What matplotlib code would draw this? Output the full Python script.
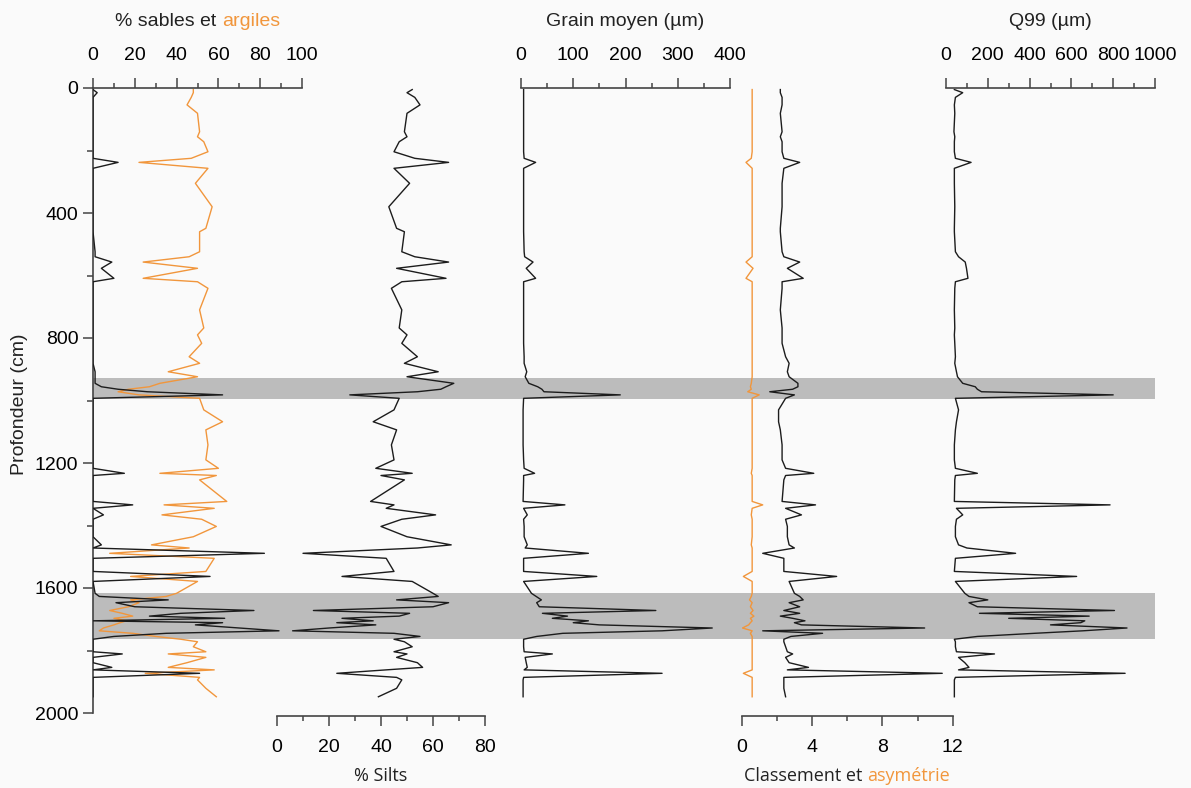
import matplotlib
matplotlib.use("Agg")
import matplotlib.pyplot as plt
from matplotlib.ticker import MultipleLocator

# ---- data (depth in cm) ----
depth = [5, 15, 30, 54, 81, 140, 156, 172, 204, 225, 238, 257, 305, 380, 449, 460,
         524, 540, 557, 577, 609, 620, 641, 710, 768, 790, 817, 860, 881, 908, 924,
         945, 956, 964, 972, 982, 993, 1030, 1068, 1094, 1142, 1190, 1217, 1233, 1240,
         1254, 1323, 1334, 1345, 1366, 1380, 1403, 1436, 1462, 1472, 1489, 1505, 1547,
         1563, 1579, 1617, 1627, 1638, 1647, 1660, 1672, 1681, 1690, 1697, 1705, 1711,
         1718, 1728, 1737, 1745, 1755, 1764, 1772, 1788, 1804, 1811, 1822, 1839, 1854,
         1862, 1873, 1886, 1894, 1921, 1948]

sables = [0, 2, 0, 0, 0, 0, 0, 0, 0, 0, 12, 0, 0, 0, 0, 0,
          1, 1, 9, 4, 10, 0, 0, 0, 0, 0, 0, 0, 0, 1, 1,
          1, 4, 12, 26, 62, 0, 0, 0, 0, 0, 0, 0, 15, 0,
          0, 0, 19, 0, 5, 0, 0, 0, 4, 0, 82, 0, 0,
          56, 0, 1, 3, 36, 11, 20, 77, 42, 27, 63, 0, 62,
          49, 70, 89, 35, 10, 0, 0, 0, 0, 14, 0, 0, 9,
          0, 51, 0, 0, 0, 0]

argiles = [48, 48, 47, 45, 50, 51, 50, 53, 55, 47, 22, 55, 49, 57, 54, 51,
           51, 46, 24, 50, 24, 50, 55, 51, 53, 50, 52, 46, 51, 36, 50,
           32, 27, 17, 12, 22, 51, 53, 62, 54, 55, 54, 60, 32, 59,
           51, 64, 34, 58, 33, 52, 59, 48, 28, 46, 8, 58, 54,
           18, 50, 40, 35, 18, 22, 17, 8, 14, 19, 10, 16, 13,
           10, 5, 3, 19, 30, 42, 50, 48, 54, 36, 54, 45, 36,
           58, 25, 51, 50, 54, 59]

silts = [52, 50, 53, 55, 50, 49, 50, 47, 45, 53, 66, 45, 51, 43, 46, 49,
         48, 53, 66, 46, 65, 48, 44, 48, 47, 50, 48, 54, 49, 62, 50,
         68, 65, 63, 54, 28, 47, 45, 37, 46, 44, 45, 38, 52, 40,
         49, 36, 45, 42, 61, 48, 40, 50, 67, 54, 10, 42, 45,
         25, 52, 60, 62, 46, 66, 60, 14, 51, 47, 25, 37, 23,
         38, 20, 6, 45, 55, 45, 49, 52, 45, 50, 46, 54, 56,
         42, 23, 46, 48, 46, 39]

grain = [5, 5, 5, 5, 5, 5, 5, 5, 5, 6, 28, 5, 5, 5, 5, 5,
         6, 7, 23, 10, 28, 5, 5, 5, 5, 5, 5, 6, 6, 11, 8,
         15, 32, 40, 44, 190, 5, 4, 4, 4, 4, 5, 6, 26, 5,
         5, 4, 84, 5, 12, 5, 6, 6, 12, 8, 129, 5, 5,
         145, 5, 20, 29, 39, 30, 35, 258, 41, 89, 60, 129, 100,
         150, 366, 270, 80, 30, 5, 5, 5, 6, 60, 8, 10, 12,
         6, 270, 5, 4, 4, 4]

classement = [2.2, 2.2, 2.3, 2.3, 2.2, 2.3, 2.2, 2.3, 2.3, 2.4, 3.3, 2.4, 2.3, 2.3, 2.2, 2.2,
              2.3, 2.4, 3.3, 2.6, 3.5, 2.3, 2.3, 2.2, 2.3, 2.3, 2.3, 2.5, 2.7, 2.6, 2.7,
              3.2, 3.2, 2.9, 1.6, 3.0, 2.5, 2.1, 2.1, 2.2, 2.3, 2.3, 2.5, 4.1, 2.5,
              2.4, 2.3, 4.2, 2.5, 3.4, 2.5, 2.6, 2.6, 2.7, 3.0, 1.2, 2.4, 2.4,
              5.4, 2.7, 3.0, 3.3, 3.5, 2.7, 3.3, 2.4, 3.3, 2.2, 2.9, 3.6, 3.0,
              3.4, 10.4, 1.2, 4.6, 2.8, 2.4, 2.4, 2.5, 2.6, 2.9, 2.5, 2.7, 3.8,
              2.6, 11.4, 2.4, 2.4, 2.4, 2.5]

asymetrie = [0.6, 0.6, 0.6, 0.6, 0.6, 0.6, 0.6, 0.6, 0.6, 0.55, 0.25, 0.6, 0.6, 0.6, 0.6, 0.6,
             0.6, 0.6, 0.25, 0.65, 0.25, 0.6, 0.6, 0.6, 0.6, 0.6, 0.6, 0.6, 0.6, 0.6, 0.6,
             0.55, 0.5, 0.55, 0.35, 1.0, 0.6, 0.6, 0.6, 0.6, 0.6, 0.6, 0.6, 0.55, 0.6,
             0.6, 0.6, 1.2, 0.6, 0.55, 0.6, 0.6, 0.6, 0.55, 0.6, 0.6, 0.6, 0.6,
             0.1, 0.6, 0.6, 0.55, 0.45, 0.6, 0.5, 0.65, 0.5, 0.7, 0.5, 0.6, 0.5,
             0.4, 0.05, 0.6, 0.5, 0.6, 0.6, 0.6, 0.6, 0.6, 0.6, 0.6, 0.6, 0.6,
             0.6, 0.1, 0.6, 0.6, 0.6, 0.6]

q99 = [40, 80, 45, 40, 42, 38, 42, 40, 40, 45, 120, 40, 40, 42, 40, 40,
       45, 60, 92, 98, 105, 45, 42, 40, 42, 40, 42, 45, 42, 50, 55,
       80, 140, 150, 170, 800, 45, 60, 50, 45, 40, 40, 45, 150, 45,
       42, 40, 785, 50, 80, 50, 45, 45, 60, 100, 333, 45, 40,
       625, 45, 90, 110, 200, 110, 150, 806, 160, 685, 300, 664, 645,
       500, 866, 655, 423, 150, 40, 45, 45, 50, 232, 60, 90, 110,
       60, 857, 45, 40, 40, 40]

bands = [(929, 996), (1617, 1763)]

BLACK = "#1c1c1c"
ORANGE = "#f1963c"
SPINE = "#444444"
FONT = "Liberation Sans"
FS = 14

plt.rcParams["font.family"] = FONT
W, H = 1191, 788
fig = plt.figure(figsize=(W / 100, H / 100), dpi=100, facecolor="#fafafa")

Y_TOP, Y_BOT = 88, 713


def add_axes(x0, x1):
    return fig.add_axes([x0 / W, (H - Y_BOT) / H, (x1 - x0) / W, (Y_BOT - Y_TOP) / H])


def style_panel(ax, xlim, major, minor, where):
    ax.set_xlim(*xlim)
    ax.set_ylim(2000, 0)
    ax.patch.set_visible(False)
    for s in ax.spines.values():
        s.set_visible(False)
    ax.spines[where].set_visible(True)
    ax.spines[where].set_color(SPINE)
    ax.spines[where].set_linewidth(1.2)
    if where == "bottom":
        ax.spines[where].set_position(("outward", 2))
    ax.set_yticks([])
    ax.xaxis.set_ticks_position(where)
    ax.xaxis.set_label_position(where)
    ax.xaxis.set_major_locator(MultipleLocator(major))
    ax.xaxis.set_minor_locator(MultipleLocator(minor))
    ax.tick_params(axis="x", which="major", direction="out", length=7, width=1.1,
                   color=SPINE, labelsize=FS, pad=10)
    ax.tick_params(axis="x", which="minor", direction="out", length=3.5, width=1.1,
                   color=SPINE)


# background axes: depth axis + grey bands
bg = add_axes(93, 1155)
bg.set_xlim(0, 1)
bg.set_ylim(2000, 0)
bg.patch.set_visible(False)
for s in ["top", "right", "bottom"]:
    bg.spines[s].set_visible(False)
bg.spines["left"].set_color(SPINE)
bg.spines["left"].set_linewidth(1.2)
bg.set_xticks([])
bg.yaxis.set_major_locator(MultipleLocator(400))
bg.yaxis.set_minor_locator(MultipleLocator(200))
bg.tick_params(axis="y", which="major", length=7.5, width=1.1, color=SPINE, labelsize=FS, pad=3)
bg.tick_params(axis="y", which="minor", length=4, width=1.1, color=SPINE)
for top, bottom in bands:
    bg.axhspan(top, bottom, color="#bcbcbc", lw=0, zorder=0)

lw = 1.0

ax1 = add_axes(93, 302)
ax1.plot(argiles, depth, color=ORANGE, lw=lw)
ax1.plot(sables, depth, color=BLACK, lw=lw)
style_panel(ax1, (0, 100), 20, 10, "top")

ax2 = add_axes(277, 485)
ax2.plot(silts, depth, color=BLACK, lw=lw)
style_panel(ax2, (0, 80), 20, 10, "bottom")

ax3 = add_axes(521, 730)
ax3.plot(grain, depth, color=BLACK, lw=lw)
style_panel(ax3, (0, 400), 100, 50, "top")

ax4 = add_axes(741.6, 952.8)
ax4.plot(asymetrie, depth, color=ORANGE, lw=lw)
ax4.plot(classement, depth, color=BLACK, lw=lw)
style_panel(ax4, (0, 12), 4, 2, "bottom")

ax5 = add_axes(946, 1155)
ax5.plot(q99, depth, color=BLACK, lw=lw)
style_panel(ax5, (0, 1000), 200, 100, "top")

renderer = fig.canvas.get_renderer()


def title(xc, y, parts, family=FONT, size=FS):
    texts = [fig.text(0, 1 - y / H, s, color=c, family=family, fontsize=size,
                      ha="left", va="center") for s, c in parts]
    widths = [t.get_window_extent(renderer).width for t in texts]
    gap = size * 0.28 * 100 / 72
    total = sum(widths) + gap * (len(texts) - 1)
    x = xc - total / 2
    for t, w in zip(texts, widths):
        t.set_x(x / W)
        x += w + gap


title((93 + 302) / 2, 22, [("% sables et", "#222222"), ("argiles", ORANGE)])
title((521 + 730) / 2, 22, [("Grain moyen (µm)", "#222222")])
title((946 + 1155) / 2, 22, [("Q99 (µm)", "#222222")])
title((277 + 485) / 2, 776, [("% Silts", "#222222")], family="Open Sans", size=13)
title((741.6 + 952.8) / 2, 776, [("Classement et", "#222222"), ("asymétrie", ORANGE)],
      family="Open Sans", size=13)

fig.text(20 / W, 1 - 404 / H, "Profondeur (cm)", rotation=90, ha="center", va="center",
         fontsize=FS, color="#222222")

fig.savefig("out.png", dpi=100, facecolor=fig.get_facecolor())
